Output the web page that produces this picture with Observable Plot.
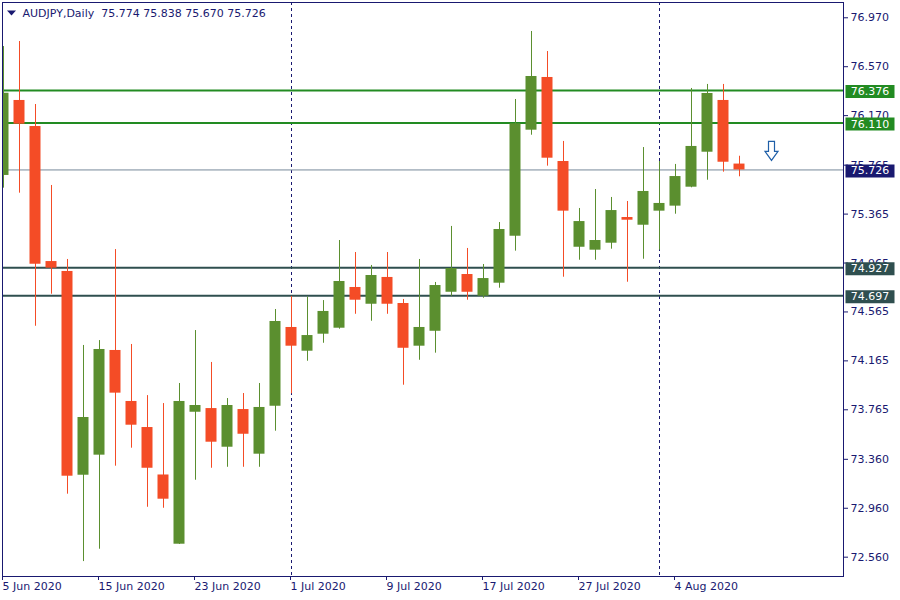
<!DOCTYPE html>
<html>
<head>
<meta charset="utf-8">
<script src="https://cdn.jsdelivr.net/npm/d3@7"></script>
<script src="https://cdn.jsdelivr.net/npm/@observablehq/plot@0.6"></script>
<style>
  html, body { margin: 0; padding: 0; background: #ffffff; }
  #chart { width: 900px; height: 600px; }
</style>
</head>
<body>
<div id="chart"></div>
<script>
// ---- data ----
const dates = ["5 Jun","8 Jun","9 Jun","10 Jun","11 Jun","12 Jun","15 Jun","16 Jun","17 Jun","18 Jun","19 Jun",
  "22 Jun","23 Jun","24 Jun","25 Jun","26 Jun","29 Jun","30 Jun","1 Jul","2 Jul","3 Jul","6 Jul","7 Jul","8 Jul",
  "9 Jul","10 Jul","13 Jul","14 Jul","15 Jul","16 Jul","17 Jul","20 Jul","21 Jul","22 Jul","23 Jul","24 Jul",
  "27 Jul","28 Jul","29 Jul","30 Jul","31 Jul","3 Aug","4 Aug","5 Aug","6 Aug","7 Aug","10 Aug"];
const opens  = [75.681,76.294,76.081,74.977,74.896,73.230,73.394,74.250,73.833,73.620,73.232,
  72.666,73.745,73.775,73.459,73.767,73.402,73.794,74.438,74.244,74.383,74.432,74.765,74.628,
  74.847,74.634,74.285,74.407,74.726,74.871,74.694,74.800,75.184,76.051,76.482,75.795,
  75.094,75.070,75.127,75.337,75.274,75.389,75.430,75.585,75.871,76.294,75.774];
const highs  = [76.735,76.776,76.261,75.599,74.994,74.291,74.331,75.075,74.299,73.881,73.816,
  73.980,74.413,74.152,73.857,73.898,73.980,74.585,74.691,74.686,74.658,75.149,75.051,74.945,
  75.051,74.667,74.994,74.806,75.264,75.084,74.953,75.296,76.302,76.858,76.694,75.959,
  75.411,75.566,75.501,75.468,75.909,75.795,75.771,76.392,76.425,76.425,75.838];
const lows   = [75.577,75.536,74.448,74.710,73.075,72.524,72.625,73.304,73.451,72.968,72.960,
  72.664,73.189,73.287,73.295,73.295,73.295,73.590,73.896,74.162,74.309,74.424,74.546,74.489,
  74.546,73.966,74.170,74.228,74.693,74.661,74.677,74.759,75.062,76.010,75.757,74.849,
  74.988,74.988,75.078,74.808,74.996,75.070,75.364,75.580,75.642,75.708,75.670];
const closes = [76.353,76.100,74.955,74.923,73.222,73.702,74.258,73.901,73.639,73.287,73.034,
  73.833,73.800,73.500,73.800,73.565,73.784,74.487,74.285,74.372,74.569,74.814,74.661,74.863,
  74.628,74.268,74.438,74.781,74.920,74.726,74.838,75.239,76.103,76.490,75.822,75.389,
  75.304,75.149,75.394,75.315,75.550,75.452,75.672,75.918,76.351,75.789,75.726];

const xTickIdx    = [0, 6, 12, 18, 24, 30, 36, 42];
const xTickLabels = ["5 Jun 2020","15 Jun 2020","23 Jun 2020","1 Jul 2020","9 Jul 2020","17 Jul 2020","27 Jul 2020","4 Aug 2020"];
const yTicks = [76.970, 76.570, 76.170, 75.765, 75.365, 74.965, 74.565, 74.165, 73.765, 73.360, 72.960, 72.560];
const monthStarts = [18, 41];
const resistLevels = [76.376, 76.110];
const supportLevels = [74.927, 74.697];
const lastPrice = [75.726];
const arrowAt = [{i: 48, price: 75.877}];
const title = "AUDJPY,Daily  75.774 75.838 75.670 75.726";

// ---- styling ----
const NAVY = "#191970";
const UP = "#5b8f2f";
const DOWN = "#f44c26";
const GREEN_LVL = "#228b22";
const DARK_LVL = "#2f4f4f";
const LAST = "#778899";

const candles = dates.map((d, i) => ({i, date: d, open: opens[i], high: highs[i], low: lows[i], close: closes[i]}));
const isUp = d => d.close >= d.open;
const HALF = 5.5 / 16;

const boxSymbol = {draw(ctx) { ctx.rect(-24.5, -6.5, 49, 13); }};
const triSymbol = {draw(ctx) { ctx.moveTo(-4.5, -2); ctx.lineTo(4.5, -2); ctx.lineTo(0, 3); ctx.closePath(); }};
const arrowSymbol = {draw(ctx) {
  ctx.moveTo(-3, -10); ctx.lineTo(3, -10); ctx.lineTo(3, 0); ctx.lineTo(6.5, 0);
  ctx.lineTo(0, 9); ctx.lineTo(-6.5, 0); ctx.lineTo(-3, 0); ctx.closePath();
}};

const levelLabels = [
  ...resistLevels.map(v => ({v, c: GREEN_LVL})),
  ...lastPrice.map(v => ({v, c: NAVY})),
  ...supportLevels.map(v => ({v, c: DARK_LVL}))
];

const chart = Plot.plot({
  width: 900,
  height: 600,
  marginLeft: 2,
  marginRight: 57,
  marginTop: 2,
  marginBottom: 24,
  style: {fontFamily: "DejaVu Sans", fontSize: "11px", background: "#ffffff", overflow: "visible"},
  x: {type: "linear", domain: [-0.0625, 52.5], axis: null},
  y: {domain: [72.402, 77.095], axis: null},
  marks: [
    Plot.axisY({anchor: "right", ticks: yTicks, tickFormat: d => d.toFixed(3), tickSize: 4, tickPadding: 3,
      stroke: NAVY, fill: NAVY, fontSize: 11, label: null}),
    Plot.axisX({anchor: "bottom", ticks: xTickIdx, tickFormat: i => xTickLabels[xTickIdx.indexOf(i)],
      tickSize: 4, tickPadding: 2, textAnchor: "start", dx: -1, stroke: NAVY, fill: NAVY, fontSize: 11, label: null}),
    Plot.ruleX(monthStarts, {x: d => d, stroke: NAVY, strokeDasharray: "3,3", strokeWidth: 1}),
    Plot.ruleY(lastPrice, {y: d => d, stroke: LAST, strokeWidth: 1}),
    Plot.ruleY(resistLevels, {y: d => d, stroke: GREEN_LVL, strokeWidth: 2}),
    Plot.ruleY(supportLevels, {y: d => d, stroke: DARK_LVL, strokeWidth: 2}),
    Plot.ruleX(candles, {filter: isUp, x: "i", y1: "low", y2: "high", stroke: UP, strokeWidth: 1, clip: true}),
    Plot.ruleX(candles, {filter: d => !isUp(d), x: "i", y1: "low", y2: "high", stroke: DOWN, strokeWidth: 1, clip: true}),
    Plot.rect(candles, {filter: isUp, x1: d => d.i - HALF, x2: d => d.i + HALF, y1: "open", y2: "close", fill: UP, clip: true}),
    Plot.rect(candles, {filter: d => !isUp(d), x1: d => d.i - HALF, x2: d => d.i + HALF, y1: "open", y2: "close", fill: DOWN, clip: true}),
    Plot.dot(arrowAt, {x: "i", y: "price", symbol: arrowSymbol, fill: "#ffffff", stroke: "#1f5fa8", strokeWidth: 1.2}),
    Plot.frame({stroke: NAVY}),
    Plot.dot(levelLabels, {y: "v", frameAnchor: "right", dx: 26.5, dy: 1, symbol: boxSymbol, fill: "c", stroke: null}),
    Plot.text(levelLabels, {y: "v", frameAnchor: "right", dx: 26.5, dy: 1, text: d => d.v.toFixed(3), fill: "#ffffff",
      textAnchor: "middle", fontSize: 11}),
    Plot.dot([0], {frameAnchor: "top-left", dx: 9, dy: 10, symbol: triSymbol, fill: NAVY, stroke: null}),
    Plot.text([title], {frameAnchor: "top-left", dx: 20, dy: 11, text: d => d, textAnchor: "start",
      lineAnchor: "middle", fill: NAVY, fontSize: 11})
  ],
  color: {type: "identity"}
});
document.getElementById("chart").appendChild(chart);
</script>
</body>
</html>
